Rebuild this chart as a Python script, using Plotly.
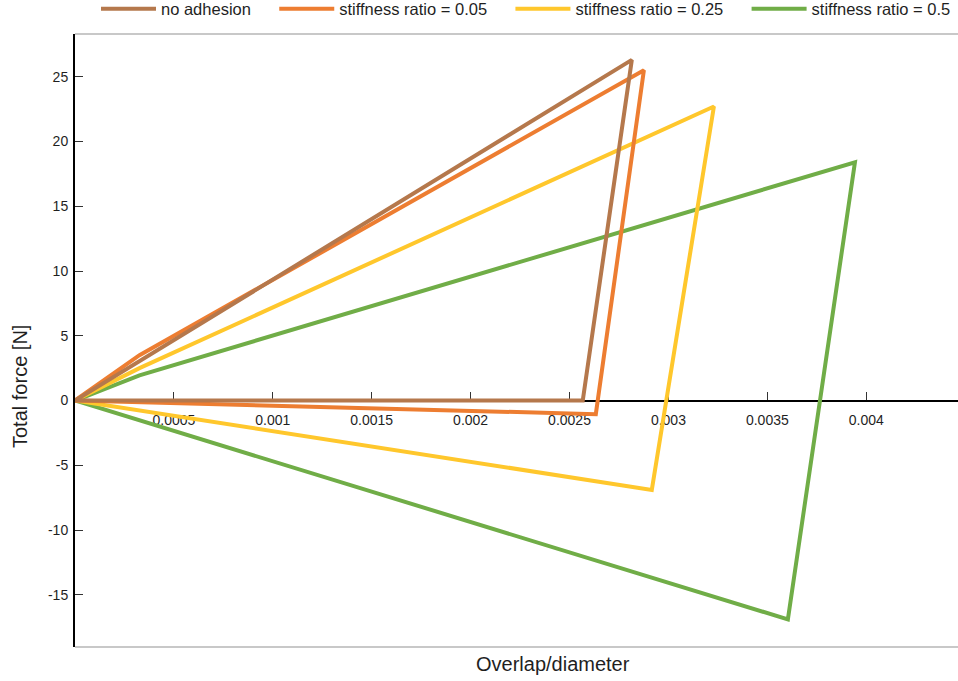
import plotly.graph_objects as go

# Data (overlap/diameter, total force [N])
series_names = ["no adhesion", "stiffness ratio = 0.05", "stiffness ratio = 0.25", "stiffness ratio = 0.5"]
series_colors = ["#B5784C", "#ED7D31", "#FFC72C", "#70AD47"]

x_no_adhesion = [0.0, 0.000326, 0.002815, 0.002567, 0.0]
y_no_adhesion = [0.0, 3.05, 26.3, 0.0, 0.0]

x_sr005 = [0.0, 0.000326, 0.002876, 0.002633, 0.0]
y_sr005 = [0.0, 3.5, 25.5, -1.05, 0.0]

x_sr025 = [0.0, 0.000326, 0.003230, 0.002916, 0.0]
y_sr025 = [0.0, 2.5, 22.7, -6.9, 0.0]

x_sr05 = [0.0, 0.000326, 0.003943, 0.003604, 0.0]
y_sr05 = [0.0, 1.95, 18.4, -16.9, 0.0]

x_tickvals = [0.0005, 0.001, 0.0015, 0.002, 0.0025, 0.003, 0.0035, 0.004]
x_ticktext = ["0.0005", "0.001", "0.0015", "0.002", "0.0025", "0.003", "0.0035", "0.004"]
y_tickvals = [-15, -10, -5, 0, 5, 10, 15, 20, 25]
y_ticktext = ["-15", "-10", "-5", "0", "5", "10", "15", "20", "25"]

x_range = [0.0, 0.004464]
y_range = [-19.03, 28.3]

FONT = "Arial, Liberation Sans, sans-serif"
TXT = "#1f1f1f"
PAD = "\u00a0" * 4  # spacing between legend entries

xs = [x_no_adhesion, x_sr005, x_sr025, x_sr05]
ys = [y_no_adhesion, y_sr005, y_sr025, y_sr05]

fig = go.Figure()
# draw green first so brown ends on top; legendrank keeps legend order
for i in reversed(range(4)):
    label = series_names[i] + (PAD if i < 3 else "")
    fig.add_trace(go.Scatter(
        x=xs[i], y=ys[i], mode="lines", name=label,
        line=dict(color=series_colors[i], width=4),
        cliponaxis=False, legendrank=i + 1,
    ))

xpos = (0 - y_range[0]) / (y_range[1] - y_range[0])

fig.update_layout(
    width=958, height=681,
    margin=dict(l=75, r=0, t=34, b=34, autoexpand=False),
    paper_bgcolor="white", plot_bgcolor="white",
    font=dict(family=FONT, color=TXT),
    showlegend=True,
    legend=dict(
        orientation="h",
        x=(104 - 8 - 75) / 883, xanchor="left", y=1 + (34 - 9) / 613, yanchor="middle",
        font=dict(size=16.5, family=FONT, color=TXT),
        itemwidth=55, bgcolor="rgba(0,0,0,0)",
    ),
    xaxis=dict(
        range=x_range, showgrid=False, zeroline=False, automargin=False,
        showline=True, linecolor="black", linewidth=2, layer="below traces",
        anchor="free", position=xpos,
        ticks="inside", ticklen=8, tickwidth=1, tickcolor="#333333",
        tickvals=x_tickvals, ticktext=x_ticktext,
        tickfont=dict(size=14, family=FONT, color=TXT),
        ticklabelstandoff=7,
    ),
    yaxis=dict(
        range=y_range, showgrid=False, zeroline=False, automargin=False,
        showline=True, linecolor="black", linewidth=2, layer="below traces",
        ticks="inside", ticklen=8, tickwidth=1, tickcolor="#333333",
        tickvals=y_tickvals, ticktext=y_ticktext,
        tickfont=dict(size=14, family=FONT, color=TXT),
        ticklabelstandoff=2,
    ),
    shapes=[
        dict(type="line", xref="paper", yref="paper", x0=0, x1=1, y0=1, y1=1,
             line=dict(color="#C8C8C8", width=2), layer="below"),
        dict(type="line", xref="paper", yref="paper", x0=0, x1=1, y0=0, y1=0,
             line=dict(color="#C8C8C8", width=2), layer="below"),
    ],
    annotations=[
        dict(text="Overlap/diameter", xref="paper", yref="paper",
             x=(553 - 75) / 883, y=-(664 - 647) / 613, xanchor="center", yanchor="middle",
             showarrow=False, font=dict(size=20, family=FONT, color=TXT)),
        dict(text="Total force [N]", xref="paper", yref="paper",
             x=-(75 - 20) / 883, y=(647 - 387) / 613, xanchor="center", yanchor="middle",
             textangle=-90, showarrow=False, font=dict(size=20, family=FONT, color=TXT)),
    ],
)

fig.write_html("out.html", config={"displayModeBar": False},
               post_script="document.body.style.margin='0';")
